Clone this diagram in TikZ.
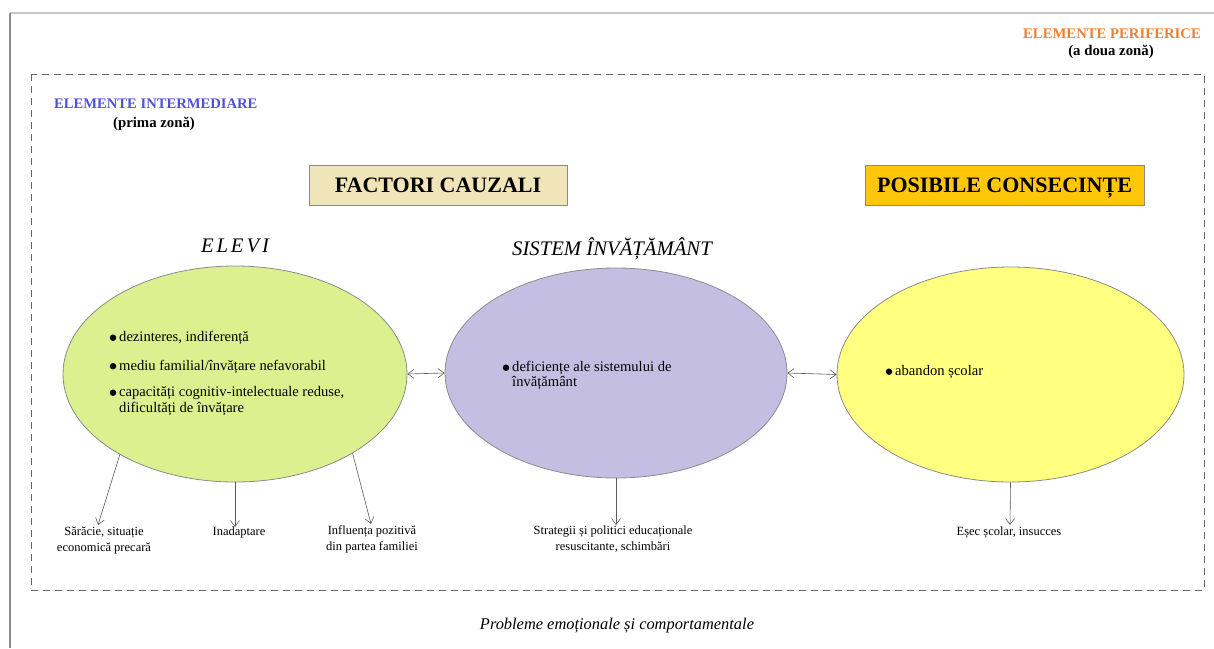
\documentclass[tikz,border=0pt]{standalone}
\usepackage{fontspec}
\setmainfont{Liberation Serif}
\usetikzlibrary{shapes.geometric,arrows.meta}
\definecolor{egreen}{RGB}{220,240,143}
\definecolor{epurple}{RGB}{197,190,227}
\definecolor{eyellow}{RGB}{255,255,128}
\definecolor{etan}{RGB}{240,229,184}
\definecolor{egold}{RGB}{255,198,10}
\definecolor{eorange}{RGB}{240,128,48}
\definecolor{eblue}{RGB}{80,80,215}
\definecolor{eline}{RGB}{90,90,90}
\tikzset{
  oval/.style={ellipse, draw=eline!70, line width=0.8pt, inner sep=0pt},
  titlebox/.style={draw=eline!70, line width=0.8pt, font=\fontsize{22}{26}\selectfont\bfseries, minimum height=40pt, inner sep=0pt, text height=15pt, text depth=0pt},
  item/.style={anchor=base west, font=\fontsize{14.6}{15}\selectfont, inner sep=0pt},
  dot/.style={circle, fill=black, minimum size=6.5pt, inner sep=0pt},
  small/.style={anchor=north, align=center, font=\fontsize{12.5}{16}\selectfont, inner sep=0pt},
  heading/.style={font=\fontsize{20.7}{24}\selectfont\itshape, inner sep=0pt},
  arr/.style={draw=eline, line width=0.6pt, -{Straight Barb[length=6pt,width=9pt]}},
  darr/.style={draw=eline, line width=0.6pt, {Straight Barb[length=6pt,width=9pt]}-{Straight Barb[length=6pt,width=9pt]}},
}
\begin{document}
\begin{tikzpicture}[x=1pt,y=-1pt]
\useasboundingbox (0,0) rectangle (1214,648);
% outer frame
\draw[color=black!22, line width=1.6pt] (10,13) -- (1214,13);
\draw[color=black!45, line width=1.6pt] (10,13) -- (10,648);
% dashed zone
\draw[color=black!60, line width=0.8pt, dash pattern=on 7pt off 5pt] (31,74) rectangle (1204,590);

% zone titles
\node[anchor=east, text=eorange, font=\fontsize{14.7}{16}\selectfont\bfseries, inner sep=0pt] (per) at (1201,34) {ELEMENTE PERIFERICE};
\node[font=\fontsize{14.8}{16}\selectfont\bfseries, inner sep=0pt] (per2) at (1111,52) {(a doua zonă)};
\node[anchor=west, text=eblue, font=\fontsize{14.6}{16}\selectfont\bfseries, inner sep=0pt] (int) at (54,104) {ELEMENTE INTERMEDIARE};
\node[font=\fontsize{14.8}{16}\selectfont\bfseries, inner sep=0pt] (int2) at (154,124) {(prima zonă)};

% title boxes
\node[titlebox, fill=etan, minimum width=258pt] (fc) at (438,185) {FACTORI CAUZALI};
\node[titlebox, fill=egold, minimum width=279pt] (pc) at (1004.5,185) {POSIBILE CONSECINȚE};

% headings
\node[heading] (hel) at (235,246) {\addfontfeature{LetterSpace=14}ELEVI};
\node[heading] (hsi) at (612,249) {SISTEM ÎNVĂȚĂMÂNT};

% ellipses
\node[oval, fill=egreen, minimum width=344pt, minimum height=216pt] (g) at (235,374) {};
\node[oval, fill=epurple, minimum width=342pt, minimum height=210pt] (p) at (616,373) {};
\node[oval, fill=eyellow, minimum width=347pt, minimum height=215pt] (y) at (1010.5,374.5) {};

\draw[darr] (g.east) -- (p.west);
\draw[darr] (p.east) -- (y.west);

% green items
\node[item] (t1) at (119,341.5) {dezinteres, indiferență};
\node[dot] (b1) at ([xshift=-6pt,yshift=3.8pt]t1.base west) {};
\node[item] (t2) at (119,370) {mediu familial/învățare nefavorabil};
\node[dot] (b2) at ([xshift=-6pt,yshift=3.8pt]t2.base west) {};
\node[item] (t3) at (119,396.5) {capacități cognitiv-intelectuale reduse,};
\node[item] (t3b) at (119,412) {dificultăți de învățare};
\node[dot] (b3) at ([xshift=-6pt,yshift=3.8pt]t3.base west) {};

% purple items
\node[item] (t4) at (512,371.5) {deficiențe ale sistemului de};
\node[item] (t4b) at (512,386) {învățământ};
\node[dot] (b4) at ([xshift=-6pt,yshift=3.8pt]t4.base west) {};

% yellow items
\node[item] (t5) at (895,375.5) {abandon școlar};
\node[dot] (b5) at ([xshift=-6pt,yshift=3.8pt]t5.base west) {};

% bottom labels
\node[small] (l1) at (104,527) {Sărăcie, situație\\economică precară};
\node[small] (l2) at (239,527) {Inadaptare};
\node[small] (l3) at (372,525) {Influența pozitivă\\din partea familiei};
\node[small] (l4) at (613,526) {Strategii și politici educaționale\\resuscitante, schimbări};
\node[small] (l5) at (1009,527) {Eșec școlar, insucces};

\coordinate (e1) at (98,525);
\coordinate (e2) at (235,527);
\coordinate (e3) at (371,524);
\coordinate (e4) at (616,525);
\coordinate (e5) at (1010,525);

\draw[arr] (g.215.6) -- (e1);
\draw[arr] (g.south) -- (e2);
\draw[arr] (g.326) -- (e3);
\draw[arr] (p.south) -- (e4);
\draw[arr] (y.south) -- (e5);

\node[font=\fontsize{16.4}{18}\selectfont\itshape, inner sep=0pt] (bot) at (617,626) {Probleme emoționale și comportamentale};
\end{tikzpicture}
\end{document}
